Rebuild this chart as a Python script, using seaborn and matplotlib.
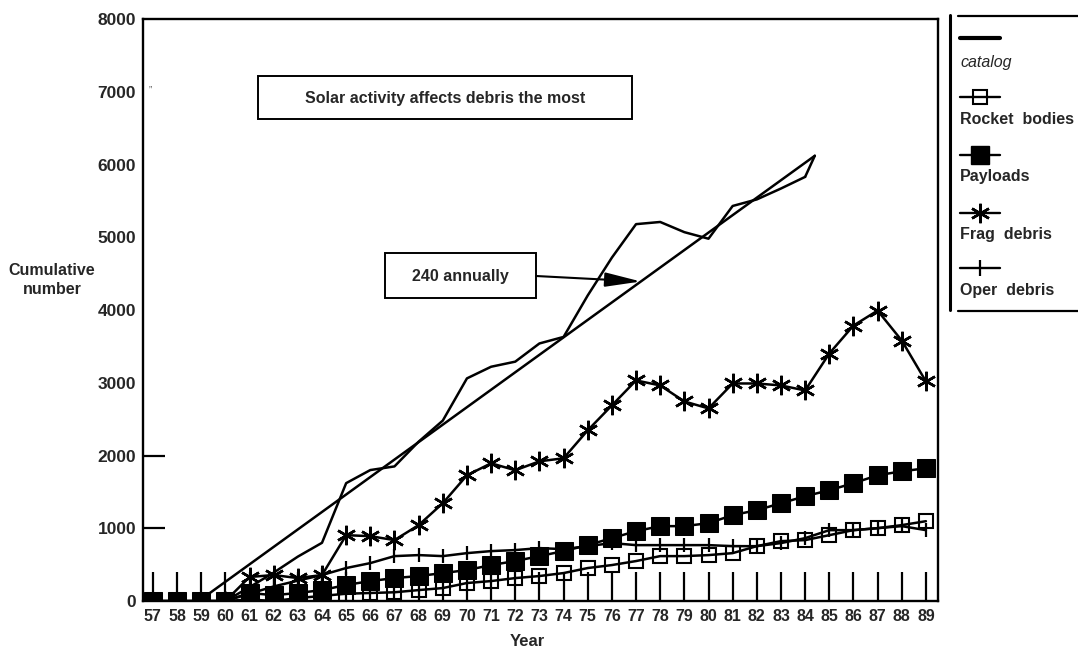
import numpy as np
import matplotlib
matplotlib.use("Agg")
import matplotlib.pyplot as plt
from matplotlib.patches import Rectangle
from matplotlib.lines import Line2D
import seaborn as sns

# ---- data -------------------------------------------------------------
years = [57, 58, 59, 60, 61, 62, 63, 64, 65, 66, 67, 68, 69, 70, 71, 72, 73,
         74, 75, 76, 77, 78, 79, 80, 81, 82, 83, 84, 85, 86, 87, 88, 89]
year_labels = [str(y) for y in years]

catalog_years = years[3:28]          # 60 .. 84
catalog = [0, 190, 390, 610, 800, 1620, 1800, 1850, 2190, 2480, 3060, 3220,
           3290, 3540, 3630, 4200, 4720, 5180, 5210, 5070, 4980, 5430, 5520,
           5670, 5830]

rocket_bodies = [0, 0, 0, 0, 20, 0, 40, 70, 100, 110, 120, 150, 178, 247, 274,
                 315, 343, 384, 453, 494, 549, 617, 617, 631, 658, 754, 823,
                 837, 905, 974, 1001, 1043, 1097]

payloads = [0, 0, 0, 0, 110, 80, 110, 150, 220, 274, 315, 343, 384, 425, 494,
            549, 617, 686, 768, 864, 960, 1029, 1029, 1070, 1180, 1248, 1344,
            1440, 1523, 1619, 1728, 1783, 1824]

debris_years = years[3:]             # 60 .. 89
frag_debris = [0, 330, 357, 315, 357, 905, 891, 837, 1043, 1344, 1728, 1893,
               1797, 1920, 1962, 2346, 2689, 3032, 2963, 2743, 2647, 2990,
               2990, 2963, 2894, 3402, 3786, 3992, 3580, 3018]
oper_debris = [0, 100, 200, 280, 357, 453, 521, 617, 631, 617, 658, 686, 700,
               727, 713, 754, 796, 768, 768, 768, 768, 754, 754, 796, 864,
               974, 974, 1001, 1029, 974]

trend_rate = 240                     # objects per year
trend_span = [58.9, 84.4]            # start / end year of the fitted line
arrow_year = 77.2

y_ticks = [0, 1000, 2000, 3000, 4000, 5000, 6000, 7000, 8000]

# ---- figure -----------------------------------------------------------
sns.set_theme(style="white")
plt.rcParams["font.family"] = ["Liberation Sans", "DejaVu Sans"]

W, H = 1078, 651
fig = plt.figure(figsize=(W / 100, H / 100), dpi=100)
ax = fig.add_axes([143 / W, 1 - 601 / H, 795 / W, 582 / H])

K = "black"
LW = 1.8
STAR = (6, 2, 0)

sns.lineplot(x=debris_years, y=oper_debris, ax=ax, color=K, linewidth=LW,
             marker="|", markersize=10, markeredgewidth=1.6,
             markeredgecolor=K, zorder=3)
sns.lineplot(x=debris_years, y=frag_debris, ax=ax, color=K, linewidth=LW,
             marker=STAR, markersize=14, markeredgewidth=1.8,
             markeredgecolor=K, markerfacecolor=K, zorder=4)
sns.lineplot(x=years, y=rocket_bodies, ax=ax, color=K, linewidth=LW,
             marker="s", markersize=10, markerfacecolor="none",
             markeredgecolor=K, markeredgewidth=1.5, zorder=5)
sns.lineplot(x=years, y=payloads, ax=ax, color=K, linewidth=LW,
             marker="s", markersize=12.5, markerfacecolor=K,
             markeredgecolor=K, zorder=6)
sns.lineplot(x=catalog_years, y=catalog, ax=ax, color=K, linewidth=LW,
             zorder=7)

trend_vals = [trend_rate * (t - trend_span[0]) for t in trend_span]
sns.lineplot(x=trend_span, y=trend_vals, ax=ax, color=K, linewidth=LW,
             zorder=7)
# short closing stroke from the end of the fit back to the last catalog value
ax.plot([trend_span[1], catalog_years[-1]], [trend_vals[1], catalog[-1]],
        color=K, linewidth=LW, zorder=7)

ax.set_xlim(56.59, 89.5)
ax.set_ylim(0, 8000)
ax.set_xticks(years)
ax.set_xticklabels(year_labels, fontsize=11.5, fontweight="bold")
ax.set_yticks(y_ticks)
ax.set_yticklabels([str(v) for v in y_ticks], fontsize=12.5, fontweight="bold")
ax.tick_params(axis="x", direction="in", length=21, width=1.6, color=K,
               pad=6, bottom=True)
ax.tick_params(axis="y", direction="in", length=16, width=1.6, color=K,
               pad=5, left=True)
for v, t in zip(y_ticks, ax.yaxis.get_major_ticks()):
    if v not in (1000, 2000):
        t.tick1line.set_visible(False)
ax.set_xlabel("")
ax.set_ylabel("")
for s in ax.spines.values():
    s.set_visible(True)
    s.set_color(K)
    s.set_linewidth(1.7)
ax.grid(False)
ax.set_facecolor("white")

# ---- overlay in pixel coordinates for boxes, labels and key ----------
ov = fig.add_axes([0, 0, 1, 1], zorder=10)
ov.set_xlim(0, W)
ov.set_ylim(H, 0)
ov.axis("off")
ov.patch.set_alpha(0)

ov.text(527, 641, "Year", ha="center", va="center", fontsize=12,
        fontweight="bold")
ov.text(52, 280, "Cumulative\nnumber", ha="center", va="center",
        fontsize=11.5, fontweight="bold", linespacing=1.3)
ov.text(150, 91, "\u201d", ha="center", va="center", fontsize=7, color="#555")

ov.add_patch(Rectangle((258, 76), 374, 43, fill=False, edgecolor=K, lw=1.4))
ov.text(445, 98, "Solar activity affects debris the most", ha="center",
        va="center", fontsize=11.5, fontweight="bold")

ov.add_patch(Rectangle((385, 253), 151, 45, fill=False, edgecolor=K, lw=1.4))
ov.text(460, 276, "240 annually", ha="center", va="center", fontsize=11.5,
        fontweight="bold")

ax.annotate("", xy=(arrow_year, trend_rate * (arrow_year - trend_span[0])),
            xycoords="data", xytext=(536, 276), textcoords=ov.transData,
            arrowprops=dict(arrowstyle="-|>,head_length=1.1,head_width=0.22",
                            mutation_scale=20, lw=1.5, color=K,
                            shrinkA=0, shrinkB=0), zorder=12)

# key panel on the right
ov.plot([950, 950], [15, 310], color=K, lw=2.2)
ov.plot([958, W], [16, 16], color=K, lw=1.6)
ov.plot([958, W], [311, 311], color=K, lw=1.6)

key = [
    (38, 62, "catalog", dict(marker=None), "italic", "normal"),
    (97, 120, "Rocket  bodies",
     dict(marker="s", markersize=10, markerfacecolor="none",
          markeredgecolor=K, markeredgewidth=1.5), "normal", "bold"),
    (155, 176, "Payloads",
     dict(marker="s", markersize=12.5, markerfacecolor=K, markeredgecolor=K),
     "normal", "bold"),
    (213, 235, "Frag  debris",
     dict(marker=STAR, markersize=14, markeredgewidth=1.8,
          markeredgecolor=K), "normal", "bold"),
    (268, 290, "Oper  debris",
     dict(marker="|", markersize=12, markeredgewidth=1.6,
          markeredgecolor=K), "normal", "bold"),
]
for ly, ty, label, mk, style, weight in key:
    if mk["marker"] is None:
        line = Line2D([960, 1000], [ly, ly], color=K, lw=3)
    else:
        line = Line2D([960, 980, 1000], [ly, ly, ly], color=K, lw=1.7,
                      markevery=[1], **mk)
    ov.add_line(line)
    ov.text(960, ty, label, ha="left", va="center", fontsize=11.5,
            fontstyle=style, fontweight=weight)

fig.savefig("out.png", dpi=100, facecolor="white")
